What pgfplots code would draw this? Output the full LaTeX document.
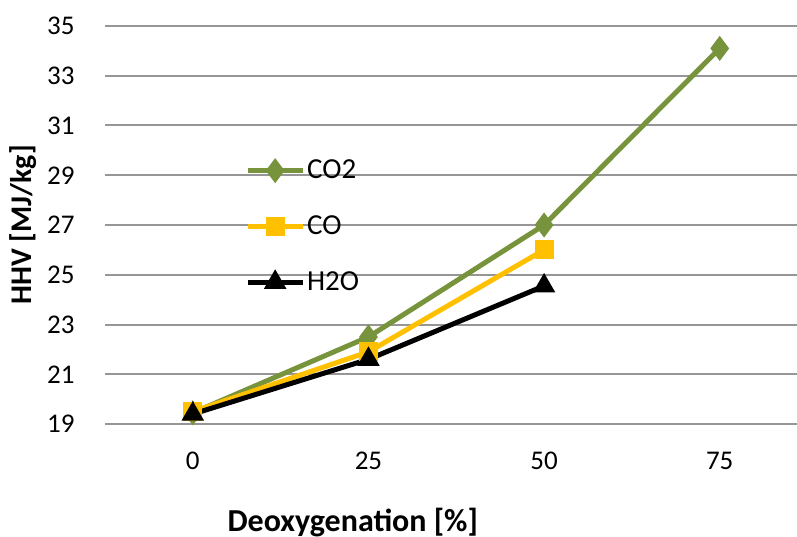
\documentclass[border=0pt]{standalone}
\usepackage{fontspec}
\setmainfont{Carlito}
\usepackage{pgfplots}
\pgfplotsset{compat=1.18}
\definecolor{cgreen}{RGB}{119,147,60}
\definecolor{cyellow}{RGB}{255,192,0}
\definecolor{cgrid}{RGB}{150,150,150}
\begin{document}
\begin{tikzpicture}
\begin{axis}[
  name=ax,
  scale only axis,
  width=346bp, height=199bp,
  xmin=-0.5, xmax=3.44,
  ymin=19, ymax=35,
  ytick={19,21,...,35},
  xtick={0,1,2,3},
  xticklabels={0,25,50,75},
  axis line style={draw=none},
  major tick length=0pt,
  ymajorgrids,
  grid style={cgrid, line width=1bp},
  font=\fontsize{13.5bp}{16bp}\selectfont,
  /pgf/number format/assume math mode=true,
  yticklabel style={anchor=east, inner sep=0pt, xshift=-15bp},
  xticklabel style={anchor=north, inner sep=0pt, yshift=-14bp},
  xlabel={\textbf{Deoxygenation [\%]}},
  xlabel style={at={(rel axis cs:0.358,0)}, anchor=base, inner sep=0pt, yshift=-53.5bp, font=\fontsize{16bp}{19bp}\selectfont},
  ylabel={\textbf{HHV [MJ/kg]}},
  ylabel style={at={(rel axis cs:-0.119,0.5)}, anchor=center, inner sep=0pt, font=\fontsize{15bp}{18bp}\selectfont},
  legend style={draw=none, fill=none, at={(rel axis cs:0.202,0.67)}, anchor=north west,
    inner sep=0pt, row sep=15bp, font=\fontsize{14.5bp}{17bp}\selectfont,
    nodes={inner sep=1bp}},
  legend cell align=left,
  legend image code/.code={\draw[mark repeat=2,mark phase=2] plot coordinates {(0bp,0bp) (13.75bp,0bp) (27.5bp,0bp)};},
  clip=false,
]
\addplot[cgreen, line width=2.5bp, mark=diamond*, mark size=4.2bp, mark options={solid}] coordinates {(0,19.45) (1,22.5) (2,27.0) (3,34.1)};
\addlegendentry{CO2}
\addplot[cyellow, line width=2.5bp, mark=square*, mark size=3.5bp] coordinates {(0,19.5) (1,21.9) (2,26.0)};
\addlegendentry{CO}
\addplot[black, line width=2.5bp, mark=triangle*, mark size=4bp] coordinates {(0,19.4) (1,21.6) (2,24.55)};
\addlegendentry{H2O}
\end{axis}
\pgfresetboundingbox
\path[use as bounding box] ([shift={(-52.5bp,-56.5bp)}]ax.south west) rectangle ([shift={(0bp,13bp)}]ax.north east);
\end{tikzpicture}
\end{document}
